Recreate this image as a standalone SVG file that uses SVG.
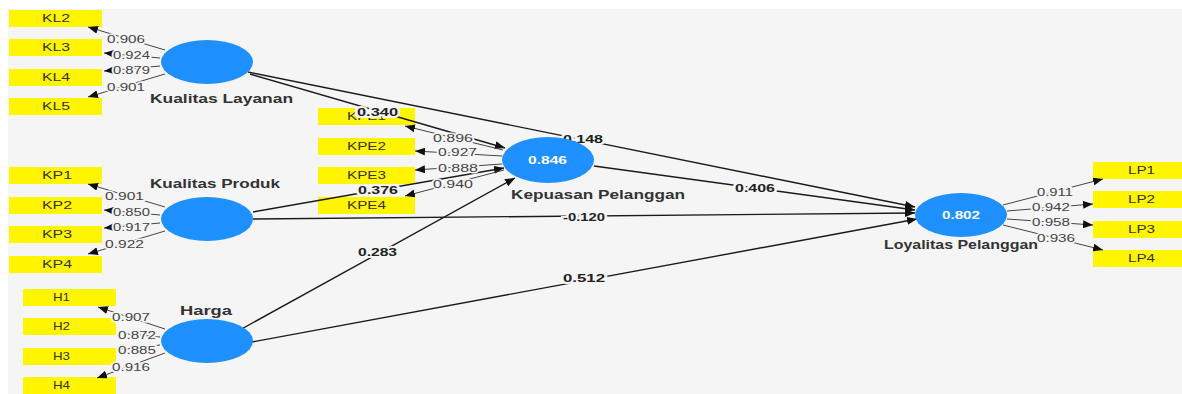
<svg xmlns="http://www.w3.org/2000/svg" width="1182" height="394" viewBox="0 0 1182 394">
<defs>
<style>
text{font-family:"Liberation Sans",Arial,sans-serif}
.box{fill:#FFF500}
.bt{font-size:11px;fill:#333}
.lat{fill:#1E90FF}
.ln{font-size:12px;font-weight:bold;fill:#333}
.val{font-size:11.5px;font-weight:bold;fill:#fff}
.p{stroke:#1a1a1a;stroke-width:1.4;fill:none;marker-end:url(#ah)}
.l{stroke:#444;stroke-width:1;fill:none;marker-end:url(#ah)}
.l0{stroke:#444;stroke-width:1;fill:none}
.pt{font-size:11.5px;font-weight:bold;fill:#222;paint-order:stroke;stroke:#f5f5f5;stroke-width:4}
.lt{font-size:11.5px;fill:#444;paint-order:stroke;stroke:#f5f5f5;stroke-width:3}
</style>
<marker id="ah" viewBox="0 0 10 8" refX="10" refY="4" markerWidth="10" markerHeight="8" markerUnits="userSpaceOnUse" orient="auto"><path d="M0,0 L10,4 L0,8 z" fill="#111"/></marker>
</defs>
<rect x="0" y="0" width="1182" height="394" fill="#fff"/>
<rect x="8" y="9" width="1174" height="385" fill="#f5f5f5"/>

<g id="indicators">
<g id="KL2"><rect class="box" x="9" y="10" width="93" height="17"/><text class="bt" x="42" y="22" textLength="28" lengthAdjust="spacingAndGlyphs">KL2</text></g>
<g id="KL3"><rect class="box" x="9" y="39" width="93" height="17"/><text class="bt" x="42" y="51" textLength="28" lengthAdjust="spacingAndGlyphs">KL3</text></g>
<g id="KL4"><rect class="box" x="9" y="69" width="93" height="17"/><text class="bt" x="42" y="81" textLength="28" lengthAdjust="spacingAndGlyphs">KL4</text></g>
<g id="KL5"><rect class="box" x="9" y="98" width="93" height="17"/><text class="bt" x="42" y="110" textLength="28" lengthAdjust="spacingAndGlyphs">KL5</text></g>
<g id="KP1"><rect class="box" x="9" y="167" width="93" height="17"/><text class="bt" x="42" y="179" textLength="30" lengthAdjust="spacingAndGlyphs">KP1</text></g>
<g id="KP2"><rect class="box" x="9" y="197" width="93" height="17"/><text class="bt" x="42" y="209" textLength="30" lengthAdjust="spacingAndGlyphs">KP2</text></g>
<g id="KP3"><rect class="box" x="9" y="226" width="93" height="17"/><text class="bt" x="42" y="238" textLength="30" lengthAdjust="spacingAndGlyphs">KP3</text></g>
<g id="KP4"><rect class="box" x="9" y="256" width="93" height="17"/><text class="bt" x="42" y="268" textLength="30" lengthAdjust="spacingAndGlyphs">KP4</text></g>
<g id="H1"><rect class="box" x="23" y="289" width="93" height="17"/><text class="bt" x="53" y="301" textLength="17" lengthAdjust="spacingAndGlyphs">H1</text></g>
<g id="H2"><rect class="box" x="23" y="318" width="93" height="17"/><text class="bt" x="53" y="330" textLength="17" lengthAdjust="spacingAndGlyphs">H2</text></g>
<g id="H3"><rect class="box" x="23" y="348" width="93" height="17"/><text class="bt" x="53" y="360" textLength="17" lengthAdjust="spacingAndGlyphs">H3</text></g>
<g id="H4"><rect class="box" x="23" y="377" width="93" height="17"/><text class="bt" x="53" y="389" textLength="17" lengthAdjust="spacingAndGlyphs">H4</text></g>
<g id="KPE1"><rect class="box" x="318" y="108" width="97" height="17"/><text class="bt" x="347" y="120" textLength="39" lengthAdjust="spacingAndGlyphs">KPE1</text></g>
<g id="KPE2"><rect class="box" x="318" y="138" width="97" height="17"/><text class="bt" x="347" y="150" textLength="39" lengthAdjust="spacingAndGlyphs">KPE2</text></g>
<g id="KPE3"><rect class="box" x="318" y="167" width="97" height="17"/><text class="bt" x="347" y="179" textLength="39" lengthAdjust="spacingAndGlyphs">KPE3</text></g>
<g id="KPE4"><rect class="box" x="318" y="197" width="97" height="17"/><text class="bt" x="347" y="209" textLength="39" lengthAdjust="spacingAndGlyphs">KPE4</text></g>
<g id="LP1"><rect class="box" x="1093" y="162" width="89" height="17"/><text class="bt" x="1128" y="174" textLength="27" lengthAdjust="spacingAndGlyphs">LP1</text></g>
<g id="LP2"><rect class="box" x="1093" y="191" width="89" height="17"/><text class="bt" x="1128" y="203" textLength="27" lengthAdjust="spacingAndGlyphs">LP2</text></g>
<g id="LP3"><rect class="box" x="1093" y="221" width="89" height="17"/><text class="bt" x="1128" y="233" textLength="27" lengthAdjust="spacingAndGlyphs">LP3</text></g>
<g id="LP4"><rect class="box" x="1093" y="250" width="89" height="17"/><text class="bt" x="1128" y="262" textLength="27" lengthAdjust="spacingAndGlyphs">LP4</text></g>
</g>

<g id="connectors">
<line class="p" x1="250" y1="74" x2="505" y2="148"/>
<line class="p" x1="248" y1="72" x2="915" y2="207"/>
<line class="p" x1="594" y1="166" x2="915" y2="210"/>
<line class="p" x1="253" y1="212" x2="504" y2="168"/>
<line class="p" x1="253" y1="219" x2="915" y2="213"/>
<line class="p" x1="238" y1="331" x2="515" y2="178"/>
<line class="p" x1="252" y1="342" x2="917" y2="219"/>

<line class="l" x1="165" y1="50" x2="88" y2="27"/>
<line class="l" x1="160" y1="58" x2="104" y2="53"/>
<line class="l" x1="160" y1="66" x2="104" y2="71"/>
<line class="l" x1="165" y1="74" x2="88" y2="97"/>
<line class="l" x1="165" y1="207" x2="88" y2="184"/>
<line class="l" x1="160" y1="215" x2="104" y2="210"/>
<line class="l" x1="160" y1="223" x2="104" y2="228"/>
<line class="l" x1="165" y1="231" x2="88" y2="254"/>
<line class="l" x1="165" y1="329" x2="98" y2="307"/>
<line class="l0" x1="160" y1="337" x2="118" y2="333"/>
<line class="l0" x1="160" y1="345" x2="118" y2="350"/>
<line class="l" x1="165" y1="353" x2="97" y2="378"/>
<line class="l" x1="503" y1="150" x2="405" y2="126"/>
<line class="l" x1="502" y1="156" x2="415" y2="151"/>
<line class="l" x1="502" y1="164" x2="415" y2="170"/>
<line class="l" x1="504" y1="170" x2="405" y2="196"/>
<line class="l" x1="1003" y1="205" x2="1103" y2="179"/>
<line class="l" x1="1007" y1="211" x2="1093" y2="204"/>
<line class="l" x1="1007" y1="219" x2="1093" y2="225"/>
<line class="l" x1="1003" y1="225" x2="1103" y2="250"/>

<text class="pt" x="357" y="116" textLength="41" lengthAdjust="spacingAndGlyphs">0.340</text>
<text class="pt" x="563" y="143" textLength="40" lengthAdjust="spacingAndGlyphs">0.148</text>
<text class="pt" x="735" y="192" textLength="40" lengthAdjust="spacingAndGlyphs">0.406</text>
<text class="pt" x="358" y="194" textLength="40" lengthAdjust="spacingAndGlyphs">0.376</text>
<text class="pt" x="563" y="221" textLength="42" lengthAdjust="spacingAndGlyphs">-0.120</text>
<text class="pt" x="358" y="256" textLength="39" lengthAdjust="spacingAndGlyphs">0.283</text>
<text class="pt" x="563" y="282" textLength="42" lengthAdjust="spacingAndGlyphs">0.512</text>

<text class="lt" x="107" y="43" textLength="38" lengthAdjust="spacingAndGlyphs">0.906</text>
<text class="lt" x="113" y="59" textLength="37" lengthAdjust="spacingAndGlyphs">0.924</text>
<text class="lt" x="113" y="74" textLength="37" lengthAdjust="spacingAndGlyphs">0.879</text>
<text class="lt" x="107" y="91" textLength="38" lengthAdjust="spacingAndGlyphs">0.901</text>
<text class="lt" x="105" y="200" textLength="39" lengthAdjust="spacingAndGlyphs">0.901</text>
<text class="lt" x="113" y="216" textLength="37" lengthAdjust="spacingAndGlyphs">0.850</text>
<text class="lt" x="113" y="231" textLength="37" lengthAdjust="spacingAndGlyphs">0.917</text>
<text class="lt" x="105" y="248" textLength="39" lengthAdjust="spacingAndGlyphs">0.922</text>
<text class="lt" x="112" y="321" textLength="38" lengthAdjust="spacingAndGlyphs">0.907</text>
<text class="lt" x="118" y="339" textLength="38" lengthAdjust="spacingAndGlyphs">0.872</text>
<text class="lt" x="118" y="354" textLength="38" lengthAdjust="spacingAndGlyphs">0.885</text>
<text class="lt" x="112" y="371" textLength="38" lengthAdjust="spacingAndGlyphs">0.916</text>
<text class="lt" x="433" y="142" textLength="40" lengthAdjust="spacingAndGlyphs">0.896</text>
<text class="lt" x="438" y="156" textLength="39" lengthAdjust="spacingAndGlyphs">0.927</text>
<text class="lt" x="438" y="172" textLength="40" lengthAdjust="spacingAndGlyphs">0.888</text>
<text class="lt" x="433" y="188" textLength="40" lengthAdjust="spacingAndGlyphs">0.940</text>
<text class="lt" x="1037" y="196" textLength="36" lengthAdjust="spacingAndGlyphs">0.911</text>
<text class="lt" x="1032" y="211" textLength="38" lengthAdjust="spacingAndGlyphs">0.942</text>
<text class="lt" x="1032" y="226" textLength="38" lengthAdjust="spacingAndGlyphs">0.958</text>
<text class="lt" x="1037" y="242" textLength="38" lengthAdjust="spacingAndGlyphs">0.936</text>
</g>

<g id="KualitasLayanan"><ellipse class="lat" cx="207" cy="62" rx="46" ry="22"/><text class="ln" x="150" y="103" textLength="143" lengthAdjust="spacingAndGlyphs">Kualitas Layanan</text></g>
<g id="KualitasProduk"><ellipse class="lat" cx="207" cy="219" rx="46" ry="22"/><text class="ln" x="150" y="188" textLength="130" lengthAdjust="spacingAndGlyphs">Kualitas Produk</text></g>
<g id="Harga"><ellipse class="lat" cx="207" cy="341" rx="46" ry="22"/><text class="ln" x="180" y="315" textLength="52" lengthAdjust="spacingAndGlyphs">Harga</text></g>
<g id="KepuasanPelanggan"><ellipse class="lat" cx="548" cy="160" rx="46" ry="23"/><text class="val" x="528" y="164" textLength="39" lengthAdjust="spacingAndGlyphs">0.846</text><text class="ln" x="511" y="199" textLength="174" lengthAdjust="spacingAndGlyphs">Kepuasan Pelanggan</text></g>
<g id="LoyalitasPelanggan"><ellipse class="lat" cx="961" cy="215" rx="46" ry="22"/><text class="val" x="942" y="219" textLength="38" lengthAdjust="spacingAndGlyphs">0.802</text><text class="ln" x="884" y="249" textLength="154" lengthAdjust="spacingAndGlyphs">Loyalitas Pelanggan</text></g>
</svg>
